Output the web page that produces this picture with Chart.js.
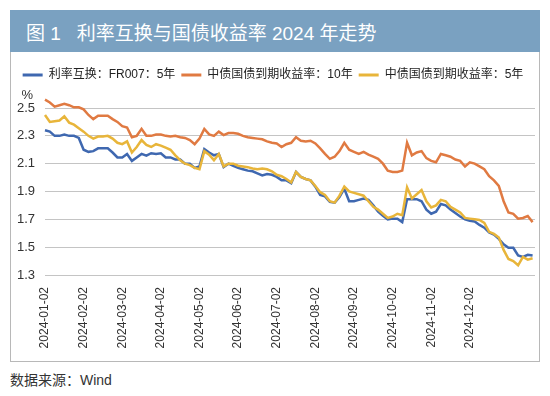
<!DOCTYPE html>
<html>
<head>
<meta charset="utf-8">
<script src="https://cdn.jsdelivr.net/npm/chart.js@4.4.1/dist/chart.umd.min.js"></script>
<style>
  html, body { margin: 0; padding: 0; background: #fff; }
  body { width: 550px; height: 396px; position: relative; overflow: hidden;
         font-family: "Liberation Sans", "Noto Sans CJK SC", sans-serif; }
  #title { position: absolute; left: 10px; top: 10px; width: 530px; height: 42px; overflow: hidden;
           background: #7aa1c1; color: #fff; font-size: 19px; line-height: 48px;
           box-sizing: border-box; padding-left: 16px; white-space: pre; }
  #box { position: absolute; left: 10px; top: 52px; width: 528px; height: 309px;
         border: 1px solid #b8b8b8; border-top: none; }
  #wrap { position: absolute; left: 0; top: 0; width: 528px; height: 309px; }
  #source { position: absolute; left: 10px; top: 369px; font-size: 14px; color: #333; }
</style>
</head>
<body>
<div id="title">图 1   利率互换与国债收益率 2024 年走势</div>
<div id="box"><div id="wrap"><canvas id="chart"></canvas></div></div>
<div id="source">数据来源：Wind</div>
<script>
// tick labels shown every 8 points on the x axis
const monthTicks = ['2024-01-02', '2024-02-02', '2024-03-02', '2024-04-02', '2024-05-02', '2024-06-02',
                    '2024-07-02', '2024-08-02', '2024-09-02', '2024-10-02', '2024-11-02', '2024-12-02'];
const seriesNames = ['利率互换：FR007：5年', '中债国债到期收益率：10年', '中债国债到期收益率：5年'];
const yTicks = [1.3, 1.5, 1.7, 1.9, 2.1, 2.3, 2.5];

// values, roughly every 2-3 trading days
const fr007 = [
  2.34, 2.33, 2.30, 2.30, 2.31, 2.30, 2.30, 2.285, 2.20, 2.185,
  2.19, 2.21, 2.21, 2.21, 2.18, 2.145, 2.145, 2.17, 2.12, 2.145,
  2.17, 2.157, 2.175, 2.17, 2.175, 2.145, 2.145, 2.13, 2.13, 2.10,
  2.10, 2.07, 2.08, 2.205, 2.18, 2.16, 2.17, 2.075, 2.10, 2.085,
  2.07, 2.06, 2.05, 2.045, 2.03, 2.015, 2.025, 2.02, 2.005, 1.98,
  1.98, 1.96, 2.04, 2.005, 1.99, 1.98, 1.935, 1.875, 1.865, 1.825,
  1.82, 1.86, 1.92, 1.83, 1.83, 1.84, 1.85, 1.84, 1.80, 1.755,
  1.725, 1.70, 1.705, 1.705, 1.68, 1.845, 1.845, 1.845, 1.83, 1.77,
  1.74, 1.755, 1.81, 1.80, 1.77, 1.745, 1.72, 1.70, 1.69, 1.685,
  1.66, 1.64, 1.605, 1.59, 1.56, 1.52, 1.496, 1.496, 1.44, 1.43,
  1.445, 1.44
];
const cgb10 = [
  2.56, 2.54, 2.51, 2.52, 2.53, 2.52, 2.505, 2.505, 2.49, 2.45,
  2.42, 2.445, 2.445, 2.445, 2.42, 2.40, 2.37, 2.36, 2.29, 2.30,
  2.35, 2.30, 2.30, 2.31, 2.31, 2.30, 2.295, 2.30, 2.29, 2.285,
  2.27, 2.24, 2.28, 2.35, 2.31, 2.30, 2.33, 2.305, 2.32, 2.32,
  2.315, 2.30, 2.29, 2.285, 2.28, 2.275, 2.26, 2.25, 2.245, 2.22,
  2.24, 2.25, 2.29, 2.265, 2.26, 2.265, 2.245, 2.21, 2.17, 2.135,
  2.15, 2.19, 2.25, 2.20, 2.185, 2.17, 2.185, 2.165, 2.15, 2.135,
  2.10, 2.05, 2.04, 2.04, 2.05, 2.25, 2.16, 2.18, 2.19, 2.14,
  2.12, 2.11, 2.17, 2.16, 2.15, 2.13, 2.12, 2.08, 2.11, 2.10,
  2.08, 2.06, 2.01, 1.98, 1.94, 1.83, 1.75, 1.74, 1.705, 1.71,
  1.724, 1.68
];
const cgb5 = [
  2.45, 2.40, 2.405, 2.41, 2.44, 2.395, 2.38, 2.355, 2.33, 2.30,
  2.28, 2.295, 2.295, 2.30, 2.28, 2.25, 2.24, 2.26, 2.18, 2.22,
  2.27, 2.235, 2.22, 2.24, 2.23, 2.215, 2.20, 2.16, 2.125, 2.10,
  2.09, 2.07, 2.06, 2.19, 2.165, 2.125, 2.17, 2.08, 2.10, 2.10,
  2.085, 2.08, 2.075, 2.065, 2.06, 2.065, 2.06, 2.045, 2.02, 2.01,
  1.99, 1.965, 2.04, 2.005, 1.99, 1.98, 1.94, 1.895, 1.875, 1.83,
  1.82, 1.87, 1.935, 1.90, 1.89, 1.88, 1.87, 1.83, 1.79, 1.77,
  1.74, 1.71, 1.72, 1.74, 1.73, 1.93, 1.85, 1.88, 1.91, 1.83,
  1.785, 1.80, 1.84, 1.83, 1.79, 1.77, 1.75, 1.71, 1.705, 1.70,
  1.695, 1.675, 1.61, 1.595, 1.57, 1.48, 1.415, 1.40, 1.37, 1.43,
  1.41, 1.42
];

const colors = ['#3f68b0', '#e07a42', '#e8b53a'];
const FONT = '"Liberation Sans", "Noto Sans CJK SC", sans-serif';
Chart.defaults.font.family = FONT;
Chart.defaults.color = '#333';

function toPoints(arr) {
  return arr.map((v, i) => ({ x: i, y: v }));
}

function makeSet(idx, arr, order) {
  return {
    label: seriesNames[idx],
    data: toPoints(arr),
    borderColor: colors[idx],
    backgroundColor: colors[idx],
    borderWidth: 2.5,
    pointRadius: 0,
    tension: 0,
    clip: false,
    order: order
  };
}

// extra room below the legend row
const legendGap = {
  id: 'legendGap',
  beforeInit(chart) {
    const fit = chart.legend.fit;
    chart.legend.fit = function () {
      fit.call(this);
      this.height += 17;
    };
  }
};

// the "%" unit above the y axis
const unitLabel = {
  id: 'unitLabel',
  afterDraw(chart) {
    const { ctx, chartArea } = chart;
    ctx.save();
    ctx.font = '13px ' + FONT;
    ctx.fillStyle = '#333';
    ctx.textAlign = 'right';
    ctx.textBaseline = 'middle';
    ctx.fillText('%', chart.scales.y.right - 12, chartArea.top - 13);
    ctx.restore();
  }
};

new Chart(document.getElementById('chart'), {
  type: 'line',
  data: {
    datasets: [makeSet(0, fr007, 1), makeSet(1, cgb10, 2), makeSet(2, cgb5, 0)]
  },
  options: {
    responsive: true,
    maintainAspectRatio: false,
    animation: false,
    devicePixelRatio: 1,
    layout: { padding: { top: 11, right: 4, left: 0, bottom: 0 } },
    plugins: {
      legend: {
        labels: {
          boxWidth: 20,
          boxHeight: 3,
          padding: 6,
          color: '#222',
          font: { size: 12 },
          sort: (a, b) => a.datasetIndex - b.datasetIndex,
          generateLabels: (chart) =>
            Chart.defaults.plugins.legend.labels.generateLabels(chart).map(l => ({ ...l, lineWidth: 0 }))
        }
      },
      tooltip: { enabled: false }
    },
    scales: {
      x: {
        type: 'linear',
        min: 0,
        max: 101.5,
        grid: { display: false, drawTicks: false },
        border: { display: false },
        afterFit: (s) => { s.height = 86; },
        afterBuildTicks: (s) => {
          s.ticks = monthTicks.map((t, i) => ({ value: i * 8 }));
        },
        ticks: {
          autoSkip: false,
          maxRotation: 90,
          minRotation: 90,
          padding: 12,
          font: { size: 12 },
          color: '#333',
          callback: (v) => monthTicks[v / 8] || ''
        }
      },
      y: {
        min: 1.3,
        max: 2.5,
        afterFit: (s) => { s.width = 34; },
        afterBuildTicks: (s) => {
          s.ticks = yTicks.map(v => ({ value: v }));
        },
        grid: { color: '#c4c4c4', lineWidth: 1, drawTicks: false },
        border: { display: false },
        ticks: {
          padding: 10,
          font: { size: 13 },
          color: '#333',
          callback: (v) => v.toFixed(1)
        }
      }
    }
  },
  plugins: [legendGap, unitLabel]
});
</script>
</body>
</html>
